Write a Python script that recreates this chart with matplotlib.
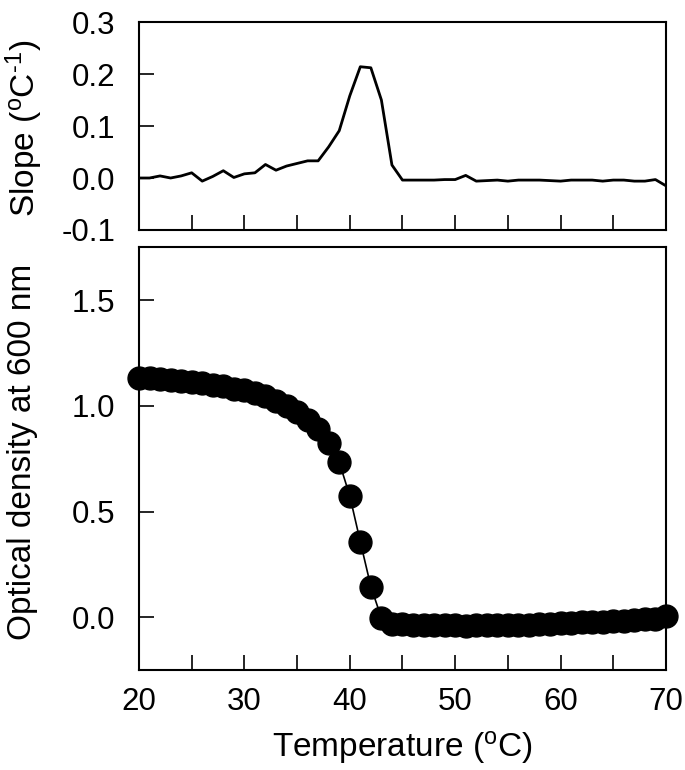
import numpy as np
import matplotlib
matplotlib.use("Agg")
import matplotlib.pyplot as plt

plt.rcParams["font.family"] = ["Liberation Sans", "DejaVu Sans"]
plt.rcParams["mathtext.fontset"] = "custom"
plt.rcParams["mathtext.rm"] = "Liberation Sans"
plt.rcParams["mathtext.it"] = "Liberation Sans:italic"

# temperature steps (deg C)
temperature = list(range(20, 71))

# optical density at 600 nm
od600 = [1.134, 1.131, 1.128, 1.124, 1.120, 1.115, 1.109, 1.100, 1.092, 1.082,
         1.073, 1.060, 1.045, 1.025, 1.000, 0.970, 0.935, 0.890, 0.826, 0.734,
         0.574, 0.357, 0.145, -0.004, -0.030, -0.034, -0.036, -0.037, -0.038, -0.038,
         -0.039, -0.040, -0.039, -0.039, -0.038, -0.037, -0.036, -0.035, -0.033, -0.031,
         -0.029, -0.027, -0.025, -0.023, -0.021, -0.019, -0.017, -0.014, -0.011, -0.008,
         0.004]

# slope of the curve
slope = [0.000, 0.000, 0.004, 0.000, 0.004, 0.010, -0.006, 0.003, 0.014, 0.001,
         0.008, 0.010, 0.026, 0.015, 0.023, 0.028, 0.033, 0.033, 0.060, 0.091,
         0.158, 0.214, 0.212, 0.150, 0.025, -0.004, -0.004, -0.004, -0.004, -0.003,
         -0.003, 0.005, -0.006, -0.005, -0.004, -0.006, -0.004, -0.004, -0.004, -0.005,
         -0.006, -0.004, -0.004, -0.004, -0.006, -0.004, -0.004, -0.006, -0.006, -0.003,
         -0.015]

x_ticks = [20, 25, 30, 35, 40, 45, 50, 55, 60, 65, 70]
x_labels = ["20", "", "30", "", "40", "", "50", "", "60", "", "70"]
slope_ticks = [-0.1, 0.0, 0.1, 0.2, 0.3]
od_ticks = [0.0, 0.5, 1.0, 1.5]

fig = plt.figure(figsize=(6.85, 7.7), dpi=100)
ax_top = fig.add_axes([0.2029, 0.7013, 0.7693, 0.2701])
ax_bot = fig.add_axes([0.2029, 0.1299, 0.7693, 0.5487])


def style(ax):
    for sp in ax.spines.values():
        sp.set_linewidth(1.5)
    ax.tick_params(axis="both", direction="in", length=11, width=1.2,
                   labelsize=22.5, top=False, right=False)
    ax.tick_params(axis="x", pad=12)
    ax.tick_params(axis="y", pad=17)
    ax.set_xlim(20, 70)
    ax.set_xticks(x_ticks)


# upper panel: slope
ax_top.plot(temperature, slope, color="black", lw=2.0)
style(ax_top)
ax_top.set_ylim(-0.1, 0.3)
ax_top.set_yticks(slope_ticks)
ax_top.set_yticklabels([f"{v:.1f}" for v in slope_ticks])
ax_top.set_xticklabels([])

# lower panel: optical density
ax_bot.plot(temperature, od600, color="black", lw=1.2, marker="o",
            markersize=16.5, markerfacecolor="black", markeredgecolor="black",
            clip_on=False)
style(ax_bot)
ax_bot.set_ylim(-0.25, 1.75)
ax_bot.set_yticks(od_ticks)
ax_bot.set_yticklabels([f"{v:.1f}" for v in od_ticks])
ax_bot.set_xticklabels(x_labels)

fig.text(24 / 685, 1 - 128 / 770, "Slope ($^{\\mathrm{o}}$C$^{\\mathrm{\u2010}1}$)",
         rotation=90, ha="center", va="center", fontsize=24)
fig.text(23 / 685, 1 - 452 / 770, "Optical density at 600 nm",
         rotation=90, ha="center", va="center", fontsize=24)
fig.text(402 / 685, 1 - 748 / 770, r"Temperature ($^{\mathrm{o}}$C)",
         ha="center", va="center", fontsize=24)

fig.savefig("out.png", dpi=100)
